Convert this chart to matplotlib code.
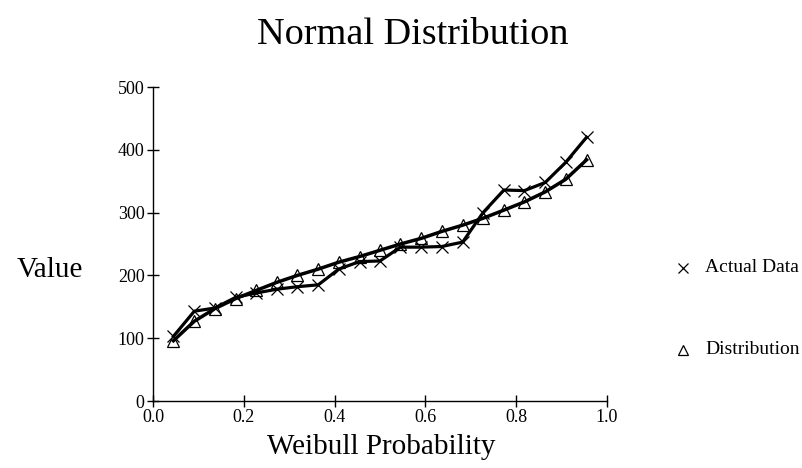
import matplotlib
matplotlib.use("Agg")
import matplotlib.pyplot as plt
from matplotlib.lines import Line2D

plt.rcParams['font.family'] = ['Liberation Serif', 'DejaVu Serif']

# Weibull plotting positions (i / (n+1), n = 21)
prob = [0.045, 0.091, 0.136, 0.182, 0.227, 0.273, 0.318, 0.364, 0.409, 0.455,
        0.500, 0.545, 0.591, 0.636, 0.682, 0.727, 0.773, 0.818, 0.864, 0.909, 0.955]
actual = [103, 143, 148, 165, 172, 178, 182, 185, 210, 222,
          223, 245, 245, 246, 253, 300, 336, 335, 348, 380, 420]
distribution = [96, 127, 147, 163, 176, 189, 200, 210, 221, 230,
                240, 250, 259, 270, 280, 291, 304, 317, 333, 353, 384]
xticks = [0.0, 0.2, 0.4, 0.6, 0.8, 1.0]
yticks = [0, 100, 200, 300, 400, 500]

fig = plt.figure(figsize=(8.02, 4.68), dpi=100)
ax = fig.add_axes([153/802, 1-401/468, (607-153)/802, (401-87)/468])

ax.plot(prob, actual, color='black', lw=2.3, marker='x', ms=8, mew=0.9,
        mec='black', label='Actual Data', zorder=3)
ax.plot(prob, distribution, color='black', lw=2.5, marker='^', ms=8, mew=0.9,
        mec='black', mfc='none', label='Distribution', zorder=3)

ax.set_xlim(0, 1)
ax.set_ylim(0, 500)
ax.set_xticks(xticks)
ax.set_xticklabels([f"{t:.1f}" for t in xticks])
ax.set_yticks(yticks)
ax.set_yticklabels([str(t) for t in yticks])
for s in ['top', 'right']:
    ax.spines[s].set_visible(False)
for s in ['left', 'bottom']:
    ax.spines[s].set_linewidth(1.0)
ax.tick_params(direction='inout', length=8, width=1, labelsize=13, pad=2)

fig.text(413/802, 1-35/468, 'Normal Distribution', ha='center', va='center', fontsize=27.5)
fig.text(381/802, 1-447/468, 'Weibull Probability', ha='center', va='center', fontsize=21)
fig.text(17/802, 1-270/468, 'Value', ha='left', va='center', fontsize=21)

# legend
fig.text(705/802, 1-268/468, 'Actual Data', ha='left', va='center', fontsize=14)
fig.text(705/802, 1-350/468, 'Distribution', ha='left', va='center', fontsize=14)
fig.add_artist(Line2D([683/802], [1-268/468], transform=fig.transFigure,
                      marker='x', ms=7, mew=0.9, color='black', ls='none'))
fig.add_artist(Line2D([683/802], [1-350/468], transform=fig.transFigure,
                      marker='^', ms=7, mew=0.9, mec='black', mfc='none', ls='none'))

fig.savefig('out.png', dpi=100)
